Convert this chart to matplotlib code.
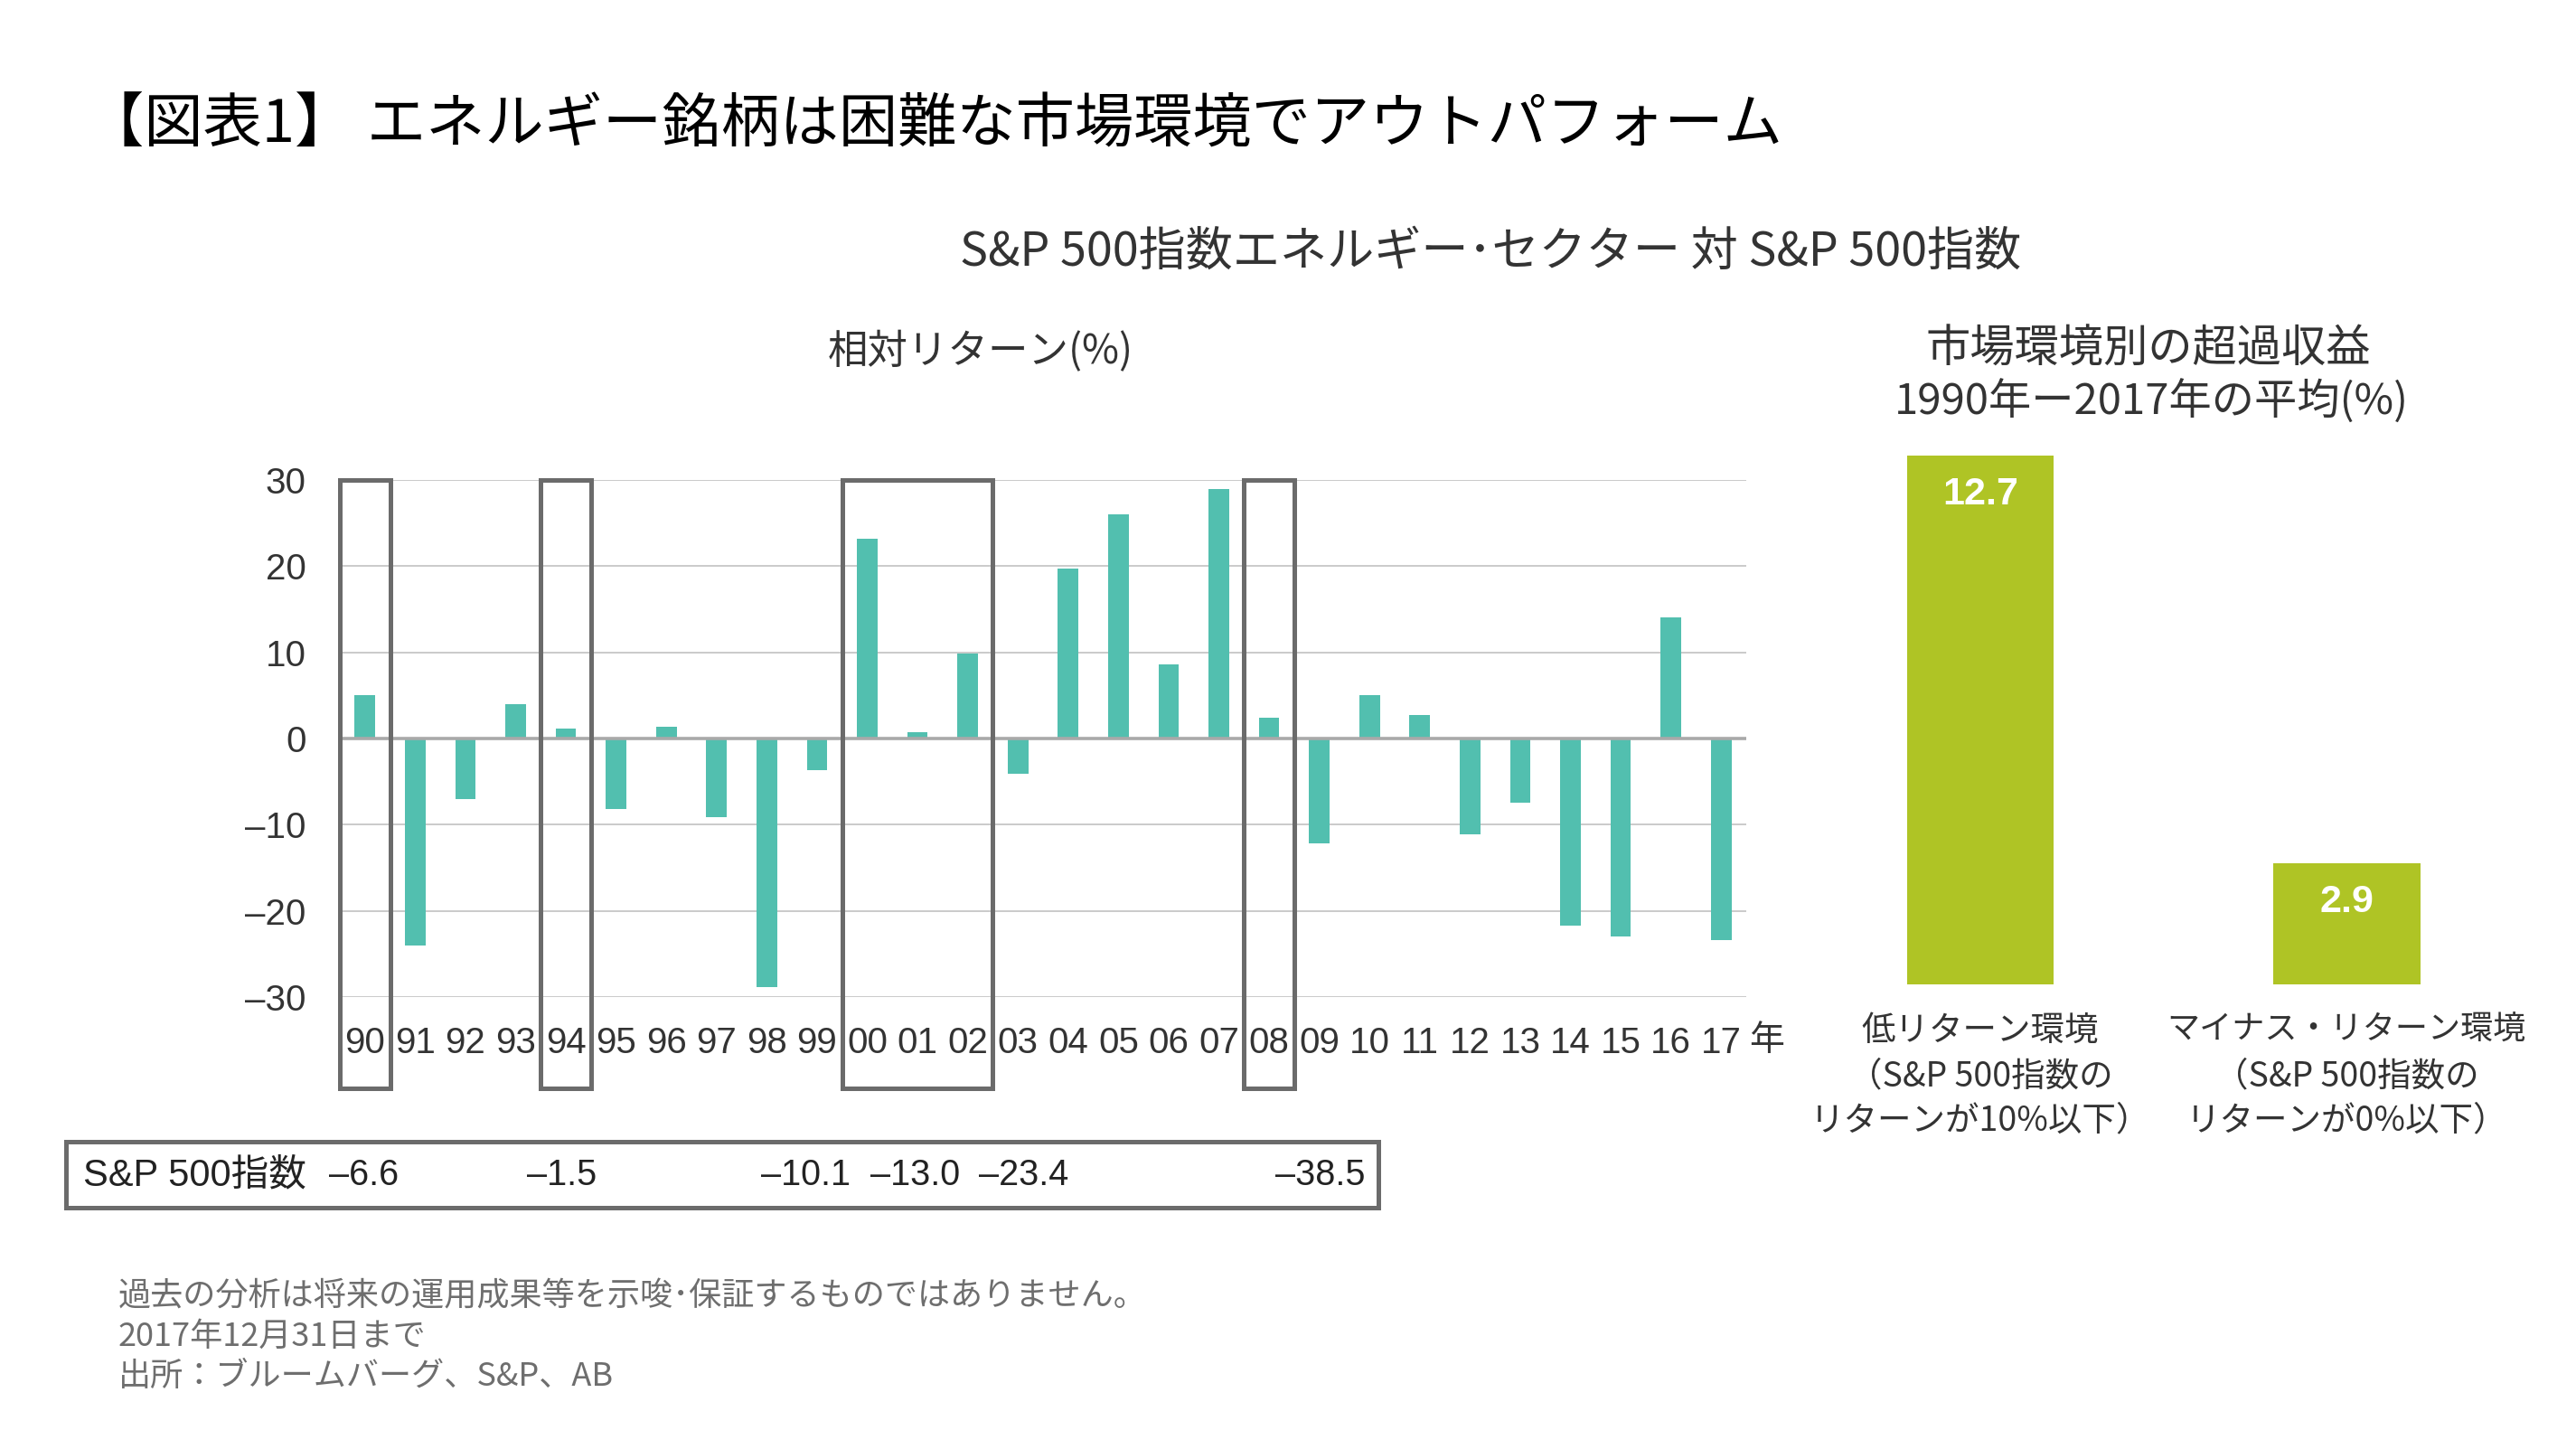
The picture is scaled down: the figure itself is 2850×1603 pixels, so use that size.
import matplotlib
matplotlib.use('Agg')
import matplotlib.pyplot as plt
from matplotlib.patches import Rectangle
import matplotlib.transforms as mtransforms

# ---------------- data ----------------
years = ['90', '91', '92', '93', '94', '95', '96', '97', '98', '99',
         '00', '01', '02', '03', '04', '05', '06', '07', '08', '09',
         '10', '11', '12', '13', '14', '15', '16', '17']
relative_returns = [5.0, -24.0, -7.0, 4.0, 1.2, -8.2, 1.4, -9.1, -28.8, -3.7,
                    23.2, 0.7, 9.9, -4.1, 19.7, 26.0, 8.6, 28.9, 2.4, -12.2,
                    5.0, 2.7, -11.1, -7.4, -21.7, -23.0, 14.0, -23.4]
highlight_groups = [('90', '90'), ('94', '94'), ('00', '02'), ('08', '08')]
yticks = [-30, -20, -10, 0, 10, 20, 30]

sp500_label = 'S&P 500指数'
sp500_values = [-6.6, -1.5, -10.1, -13.0, -23.4, -38.5]

env_labels = [['低リターン環境', '（S&P 500指数の', 'リターンが10%以下）'],
              ['マイナス・リターン環境', '（S&P 500指数の', 'リターンが0%以下）']]
env_values = [12.7, 2.9]

title = '【図表1】 エネルギー銘柄は困難な市場環境でアウトパフォーム'
subtitle = 'S&P 500指数エネルギー･セクター 対 S&P 500指数'
left_title = '相対リターン(%)'
right_title = ['市場環境別の超過収益', '1990年ー2017年の平均(%)']
notes = ['過去の分析は将来の運用成果等を示唆･保証するものではありません。',
         '2017年12月31日まで',
         '出所：ブルームバーグ、S&P、AB']

# ---------------- layout / style ----------------
W, H = 2850, 1603
JP = ['Noto Sans CJK JP', 'DejaVu Sans']
LAT = ['Liberation Sans', 'Noto Sans CJK JP', 'DejaVu Sans']
TEAL = '#52BFAF'
GREEN = '#AFC425'
BOXC = '#6B6B6B'
TXT = '#333333'


def fx(x):
    return x / W


def fy(y):
    return 1 - y / H


def dash(v, fmt='{:.1f}'):
    return fmt.format(v).replace('-', '–')


fig = plt.figure(figsize=(W / 100, H / 100), dpi=100)
fig.patch.set_facecolor('white')

# titles
fig.text(fx(94), fy(139), title, family=JP, fontsize=47, color='black',
         ha='left', va='center')
fig.text(fx(1649), fy(279), subtitle, family=JP, fontsize=37.5, color=TXT,
         ha='center', va='center')
fig.text(fx(1085), fy(389), left_title, family=JP, fontsize=32, color=TXT,
         ha='center', va='center')
fig.text(fx(2377), fy(387), right_title[0], family=JP, fontsize=35.5, color=TXT,
         ha='center', va='center')
fig.text(fx(2380), fy(445), right_title[1], family=JP, fontsize=34, color=TXT,
         ha='center', va='center')

# ---------------- left chart ----------------
ax_l, ax_r, ax_t, ax_b = 376, 1932, 530.7, 1103.3
ax = fig.add_axes([fx(ax_l), fy(ax_b), (ax_r - ax_l) / W, (ax_b - ax_t) / H])
xpos = list(range(len(years)))
ax.bar(xpos, relative_returns, width=0.41, color=TEAL, zorder=3)
ax.set_xlim(-0.5, len(years) - 0.5)
ax.set_ylim(-30, 30)
for t in yticks:
    if t != 0:
        ax.axhline(t, color='#C6C6C6', lw=1.3, zorder=1)
ax.axhline(0, color='#A9A9A9', lw=2.6, zorder=4)
for s in ax.spines.values():
    s.set_visible(False)
ax.set_yticks(yticks)
ax.set_yticklabels([dash(t, '{:d}') for t in yticks], family=LAT, fontsize=29,
                   color=TXT)
ax.set_xticks(xpos)
ax.set_xticklabels(years, family=LAT, fontsize=29, color=TXT)
ax.tick_params(axis='y', length=0, pad=27)
ax.tick_params(axis='x', length=0, pad=23)
ax.set_facecolor('none')

# "年" after last tick
trans = mtransforms.blended_transform_factory(ax.transData, ax.transAxes)
ax.text(len(years) - 0.45, -0.083, '年', transform=trans, family=JP, fontsize=28,
        color=TXT, ha='left', va='center', clip_on=False)

# highlight boxes
for a, b in highlight_groups:
    i0, i1 = years.index(a), years.index(b)
    ax.add_patch(Rectangle((i0 - 0.5, -40.6), i1 - i0 + 1, 70.6, fill=False,
                           ec=BOXC, lw=3.6, clip_on=False, zorder=5))

# ---------------- S&P table ----------------
fig.patches.append(Rectangle((fx(73), fy(1336)), (1525 - 73) / W, (1336 - 1263) / H,
                             transform=fig.transFigure, fill=False, ec=BOXC, lw=3.6))
fig.text(fx(92), fy(1300), sp500_label, family=LAT, fontsize=30, color='#222222',
         ha='left', va='center')
table_x = [403, 622, 891, 1013, 1133, 1461]
for xv, v in zip(table_x, sp500_values):
    fig.text(fx(xv), fy(1300), dash(v), family=LAT, fontsize=28.5, color='#222222',
             ha='center', va='center')

# ---------------- right chart ----------------
r_l, r_w, r_t, r_b = 1988.5, 810.6, 503.5, 1088.7
ax2 = fig.add_axes([fx(r_l), fy(r_b), r_w / W, (r_b - r_t) / H])
ax2.bar([0, 1], env_values, width=0.4, color=GREEN)
ax2.set_xlim(-0.5, 1.5)
ax2.set_ylim(0, max(env_values))
ax2.axis('off')
for i, v in enumerate(env_values):
    ax2.annotate(f'{v:.1f}', (i, v), xytext=(0, -31), textcoords='offset points',
                 ha='center', va='center', color='white', fontweight='bold',
                 fontsize=31, family=LAT)

trans2 = mtransforms.blended_transform_factory(ax2.transData, fig.transFigure)
line_y = [1140, 1191, 1240]
for i, lines in enumerate(env_labels):
    for j, (ly, txt) in enumerate(zip(line_y, lines)):
        fs = 26 if (i == 1 and j == 0) else 27
        ax2.text(i, fy(ly), txt, transform=trans2, family=JP, fontsize=fs,
                 color=TXT, ha='center', va='center', clip_on=False)

# ---------------- footnotes ----------------
for ny, txt in zip([1434, 1479, 1523], notes):
    fig.text(fx(131), fy(ny), txt, family=JP, fontsize=26, color='#6E6E6E',
             ha='left', va='center')

fig.savefig('out.png', dpi=100, facecolor='white')
